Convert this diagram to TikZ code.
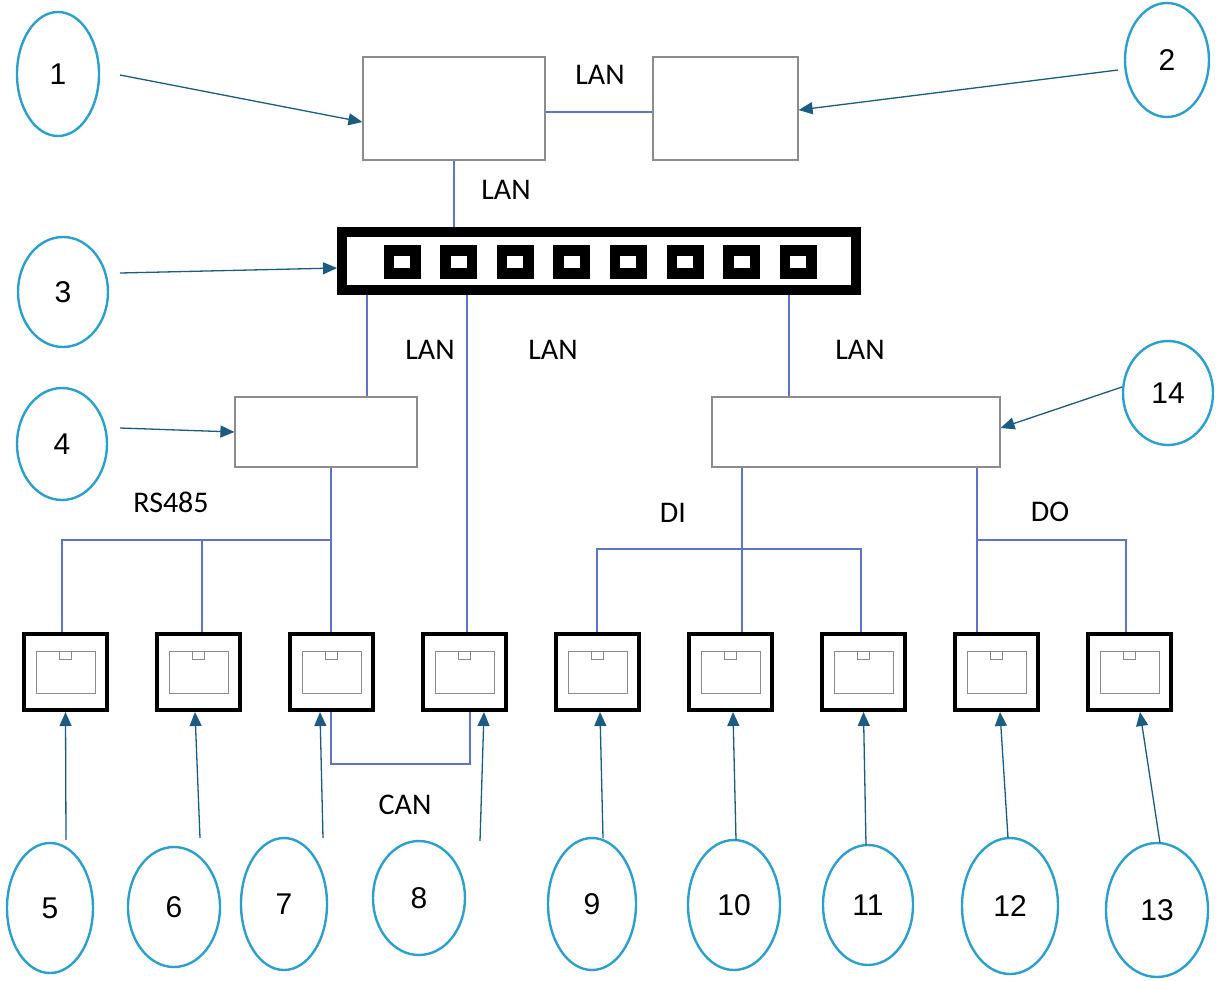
\documentclass[tikz,border=0pt]{standalone}
\usepackage{fontspec}
\setmainfont{Liberation Sans}
\newfontfamily\lblfont{Carlito}
\usetikzlibrary{shapes.geometric,arrows.meta,calc}
\definecolor{ellcol}{RGB}{44,160,205}
\definecolor{arrcol}{RGB}{28,92,130}
\definecolor{linecol}{RGB}{95,115,200}
\definecolor{boxcol}{RGB}{140,140,140}
\begin{document}
\begin{tikzpicture}[x=1pt,y=-1pt,
  callout/.style={ellipse, draw=ellcol, line width=2.4pt, inner sep=0pt, font=\fontsize{30}{30}\selectfont},
  pointer/.style={draw=arrcol, line width=1.3pt, -{Triangle[length=14pt,width=12pt]}},
  wire/.style={draw=linecol, line width=1.3pt},
  unit/.style={draw=boxcol, line width=1.2pt, inner sep=0pt},
  device/.style={draw=black, line width=4pt, minimum width=83pt, minimum height=76pt, inner sep=0pt},
  port/.style={fill=black, minimum width=37pt, minimum height=34pt, inner sep=0pt},
  porthole/.style={fill=white, minimum width=16pt, minimum height=12pt, inner sep=0pt},
  lbl/.style={font=\lblfont\fontsize{30}{30}\selectfont, inner sep=0pt}]
\useasboundingbox[fill=white] (0,0) rectangle (1229,980);

% main units
\node[unit, minimum width=182pt, minimum height=103pt] (boxA) at (454,108.5) {};
\node[unit, minimum width=145pt, minimum height=103pt] (boxB) at (725.5,108.5) {};
\node[unit, minimum width=182pt, minimum height=70pt] (box4) at (326,432) {};
\node[unit, minimum width=288pt, minimum height=70pt] (box14) at (856,432) {};

% switch
\node[draw=black, line width=10pt, minimum width=514pt, minimum height=58pt, inner sep=0pt] (sw) at (599,261) {};
\foreach \i in {0,...,7}{
  \node[port] (p\i) at ({402+56.6*\i},262) {};
  \node[porthole] at (p\i) {};
}

% devices
\foreach \k in {5,...,13}{
  \node[device] (d\k) at ({65.5+133*(\k-5)},672) {};
  \draw[boxcol, line width=1pt] ($(d\k.center)+(-29.5,-21)$) rectangle ($(d\k.center)+(29.5,21)$);
  \draw[boxcol, line width=1pt] ($(d\k.center)+(-6,-21)$) rectangle ($(d\k.center)+(6,-13)$);
}

% callouts
\node[callout, minimum width=82pt, minimum height=124pt] (e1) at (58,74) {1};
\node[callout, minimum width=84pt, minimum height=114pt] (e2) at (1167,60) {2};
\node[callout, minimum width=90pt, minimum height=110pt] (e3) at (63,292) {3};
\node[callout, minimum width=90pt, minimum height=112pt] (e4) at (62,444) {4};
\node[callout, minimum width=90pt, minimum height=104pt] (e14) at (1168,393) {14};
\node[callout, minimum width=86pt, minimum height=130pt] (e5) at (50,908) {5};
\node[callout, minimum width=92pt, minimum height=120pt] (e6) at (174,907) {6};
\node[callout, minimum width=86pt, minimum height=132pt] (e7) at (284,904) {7};
\node[callout, minimum width=92pt, minimum height=114pt] (e8) at (419,898) {8};
\node[callout, minimum width=88pt, minimum height=132pt] (e9) at (592,904) {9};
\node[callout, minimum width=92pt, minimum height=130pt] (e10) at (734,905) {10};
\node[callout, minimum width=90pt, minimum height=120pt] (e11) at (868,905) {11};
\node[callout, minimum width=96pt, minimum height=136pt] (e12) at (1010,906) {12};
\node[callout, minimum width=102pt, minimum height=134pt] (e13) at (1157,910) {13};

% labels
\node[lbl] (lan1) at (600,75) {LAN};
\node[lbl] (lan2) at (506,190) {LAN};
\node[lbl] (lan3) at (430,350) {LAN};
\node[lbl] (lan4) at (553,350) {LAN};
\node[lbl] (lan5) at (860,350) {LAN};
\node[lbl] (rs) at (171,502) {RS485};
\node[lbl] (di) at (673,513) {DI};
\node[lbl] (do) at (1050,512) {DO};
\node[lbl] (can) at (405,805) {CAN};

% junction coordinates
\coordinate (xa) at (367,0);
\coordinate (xb) at (467,0);
\coordinate (xc) at (789,0);
\coordinate (j5) at (62,540);
\coordinate (j6) at (202,540);
\coordinate (j7) at (331,540);
\coordinate (j9) at (597,549);
\coordinate (j10) at (742,549);
\coordinate (j11) at (861,549);
\coordinate (j12) at (977,540);
\coordinate (j13) at (1126,540);
\coordinate (c7) at (331,764);
\coordinate (c8) at (470,764);

% wires
\draw[wire] ([yshift=-3.5pt]boxA.east) -- ([yshift=-3.5pt]boxB.west);
\draw[wire] (boxA.south) -- (boxA.south |- sw.north);
\draw[wire] (xa |- sw.south) -- (xa |- box4.north);
\draw[wire] (xb |- sw.south) -- (xb |- d8.north);
\draw[wire] (xc |- sw.south) -- (xc |- box14.north);
\draw[wire] (j7 |- box4.south) -- (j7 |- d7.north);
\draw[wire] (j5 |- d5.north) |- (j7);
\draw[wire] (j6) -- (j6 |- d6.north);
\draw[wire] (j10 |- box14.south) -- (j10 |- d10.north);
\draw[wire] (j9 |- d9.north) -- (j9) -- (j11) -- (j11 |- d11.north);
\draw[wire] (j12 |- box14.south) -- (j12 |- d12.north);
\draw[wire] (j12) -- (j13) -- (j13 |- d13.north);
\draw[wire] (c7 |- d7.south) -- (c7) -- (c8) -- (c8 |- d8.south);

% pointer start points
\coordinate (s1) at (120,75);
\coordinate (s2) at (1118,70);
\coordinate (s3) at (120,273);
\coordinate (s4) at (120,428);
\coordinate (s14) at (1122,387);
\coordinate (s5) at (66,840);
\coordinate (s6) at (200,838);
\coordinate (s7) at (323,838);
\coordinate (s8) at (480,841);
\coordinate (s9) at (603,838);
\coordinate (s10) at (736,840);
\coordinate (s11) at (866,845);
\coordinate (s12) at (1008,838);
\coordinate (s13) at (1160,843);

% pointers
\draw[pointer] (s1) -- ([yshift=-13.5pt]boxA.west);
\draw[pointer] (s2) -- ([yshift=-1.5pt]boxB.east);
\draw[pointer] (s3) -- ([yshift=-7pt]sw.west);
\draw[pointer] (s4) -- (box4.west);
\draw[pointer] (s14) -- ([yshift=4pt]box14.east);
\draw[pointer] (s5) -- (d5.south);
\draw[pointer] (s6) -- ([xshift=-3.5pt]d6.south);
\draw[pointer] (s7) -- ([xshift=-11.5pt]d7.south);
\draw[pointer] (s8) -- ([xshift=19.5pt]d8.south);
\draw[pointer] (s9) -- ([xshift=2.5pt]d9.south);
\draw[pointer] (s10) -- ([xshift=2.5pt]d10.south);
\draw[pointer] (s11) -- (d11.south);
\draw[pointer] (s12) -- ([xshift=3.5pt]d12.south);
\draw[pointer] (s13) -- ([xshift=10.5pt]d13.south);
\end{tikzpicture}
\end{document}
